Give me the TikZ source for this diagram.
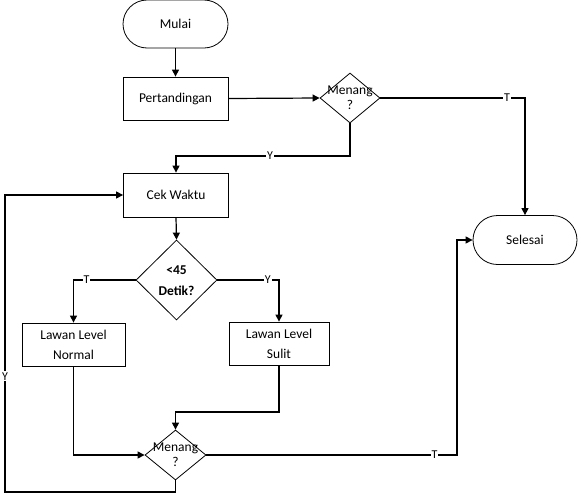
\documentclass[tikz,border=0pt]{standalone}
\usepackage{fontspec}
\setmainfont{Carlito}
\usetikzlibrary{shapes.geometric,shapes.misc,arrows.meta}
\begin{document}
\begin{tikzpicture}[x=1pt,y=-1pt,
  every node/.style={font=\fontsize{13.5}{20}\selectfont, inner sep=0pt, align=center},
  term/.style={draw, line width=0.8pt, rounded rectangle, minimum width=105pt, minimum height=48pt},
  proc/.style={draw, line width=0.8pt, rectangle, minimum width=105pt, minimum height=43pt},
  dec/.style={draw, line width=0.8pt, diamond, inner sep=0pt},
  dtext/.style={font=\fontsize{13.5}{15}\selectfont},
  conn/.style={line width=1.2pt, -{Triangle[length=7pt,width=7pt]}},
  lbl/.style={font=\fontsize{12}{12}\selectfont, fill=white, inner sep=1pt}]
\useasboundingbox (0,0) rectangle (578,493);

\node[term] (mulai) at (175.5,24) {Mulai};
\node[proc] (pert) at (175.5,98.5) {Pertandingan};
\node[dec, minimum width=60pt, minimum height=50pt] (d1) at (350,98) {};
\node[dtext] (d1t) at (350,98) {Menang\\?};
\node[term, minimum width=104pt, minimum height=49pt] (selesai) at (525,240) {Selesai};
\node[proc, minimum height=44pt] (cek) at (176,195) {Cek Waktu};
\node[dec, minimum width=81pt, minimum height=80pt] (d2) at (176.5,280) {};
\node[font=\fontsize{13.5}{21}\selectfont\bfseries] (d2t) at (176.5,280.5) {<45\\Detik?};
\node[proc, minimum width=103pt] (normal) at (73.5,344.5) {Lawan Level\\Normal};
\node[proc, minimum width=100pt] (sulit) at (279,343.5) {Lawan Level\\Sulit};
\node[dec, minimum width=61pt, minimum height=50pt] (d3) at (175.5,455) {};
\node[dtext] (d3t) at (175.5,455) {Menang\\?};

\draw[conn] (mulai.south) -- (pert.north);
\draw[conn] (pert.east) -- (d1.west);
\draw[conn] (d1.east) -- node[lbl,pos=0.876]{T} (selesai.north |- d1.east) -- (selesai.north);
\draw[conn] (d1.south) -- (d1.south |- 0,156) coordinate (ya) -- node[lbl,pos=0.46]{Y} (cek.north |- ya) -- (cek.north);
\draw[conn] (cek.south) -- (d2.north);
\draw[conn] (d2.west) -- node[lbl,pos=0.79]{T} (normal.north |- d2.west) -- (normal.north);
\draw[conn] (d2.east) -- node[lbl,pos=0.82]{Y} (sulit.north |- d2.east) -- (sulit.north);
\draw[conn] (sulit.south) -- (sulit.south |- 0,412) coordinate (yb) -- (d3.north |- yb) -- (d3.north);
\draw[conn] (normal.south) |- (d3.west);
\draw[conn] (d3.east) -- node[lbl,pos=0.91]{T} (457,455) coordinate (tc) -- (tc |- selesai.west) -- (selesai.west);
\draw[conn] (d3.south) -- (d3.south |- 0,492) coordinate (yc) -- (5,492) coordinate (yd) -- node[lbl,pos=0.39]{Y} (yd |- cek.west) -- (cek.west);
\end{tikzpicture}
\end{document}
